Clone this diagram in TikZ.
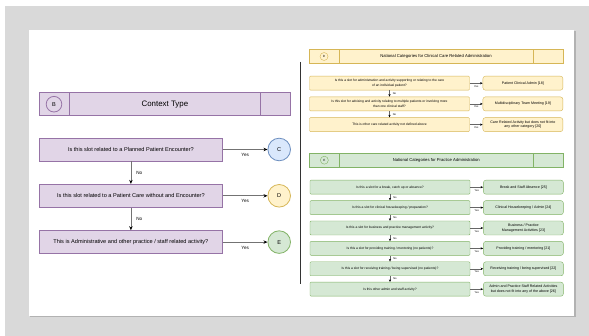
\documentclass[tikz,border=0pt]{standalone}
\usepackage{fontspec}
\setmainfont{Liberation Sans}
\usetikzlibrary{arrows.meta, positioning}

\definecolor{pageGray}{HTML}{D9D9D9}
\definecolor{purpleFill}{HTML}{E1D5E7}
\definecolor{purpleLine}{HTML}{9673A6}
\definecolor{blueFill}{HTML}{DAE8FC}
\definecolor{blueLine}{HTML}{6C8EBF}
\definecolor{yellowFill}{HTML}{FFF2CC}
\definecolor{yellowLine}{HTML}{D6B656}
\definecolor{greenFill}{HTML}{D5E8D4}
\definecolor{greenLine}{HTML}{82B366}

\begin{document}
\begin{tikzpicture}[
        x=1pt, y=-1pt,
        hdrbox/.style={rectangle, draw=purpleLine, fill=purpleFill, line width=0.8pt, inner sep=0pt, minimum width=251pt, minimum height=23pt, font=\fontsize{7.9}{9}\selectfont},
        qbox/.style={rectangle, draw=purpleLine, fill=purpleFill, line width=0.8pt, inner sep=0pt, minimum width=183pt, minimum height=23pt, font=\fontsize{5.6}{6.7}\selectfont},
        endcirc/.style={circle, draw, line width=0.8pt, inner sep=0pt, minimum size=22.6pt, font=\fontsize{5.6}{6.7}\selectfont},
        tagcirc/.style={circle, draw=purpleLine, fill=purpleFill, line width=0.8pt, inner sep=0pt, minimum size=15.6pt, font=\fontsize{5.6}{6.7}\selectfont},
        arrow/.style={-{Stealth[length=4pt, width=3.4pt, color=black]}, draw=black!55, line width=0.8pt},
        lbl/.style={inner sep=0pt, font=\fontsize{4.6}{5}\selectfont},
        rhdr/.style={rectangle, draw, inner sep=0pt, minimum width=253.5pt, minimum height=13.6pt, font=\fontsize{4.2}{5}\selectfont},
        rtag/.style={circle, draw, inner sep=0pt, minimum size=8pt, font=\fontsize{3}{3.5}\selectfont},
        rq/.style={rectangle, rounded corners=1pt, draw, inner sep=0pt, minimum width=160pt, minimum height=14pt, align=center, font=\fontsize{3.3}{4.2}\selectfont},
        ra/.style={rectangle, rounded corners=2.5pt, draw, inner sep=0pt, minimum width=80pt, minimum height=14pt, align=center, font=\fontsize{3.6}{4.5}\selectfont},
        sarrow/.style={-{Stealth[length=2.6pt, width=2.2pt, color=black]}, draw=black!60, line width=0.5pt},
        slbl/.style={inner sep=0pt, font=\fontsize{2.6}{3}\selectfont},
        dsec/.style={draw=yellowLine, fill=yellowFill},
        esec/.style={draw=greenLine, fill=greenFill}
    ]

    % page and background
    \useasboundingbox (0,0) rectangle (589,336);
    \fill[white] (0,0) rectangle (589,336);
    \fill[pageGray] (5,6) rectangle (589,336);
    \fill[black!30] (30,31.5) rectangle (575.5,317.5);
    \fill[white] (29,30) rectangle (574,316);

    % left: context type
    \node[hdrbox] (hdrB) at (164.9,104.2) {Context Type};
    \draw[purpleLine, line width=0.8pt] ([xshift=30pt]hdrB.north west) -- ([xshift=30pt]hdrB.south west);
    \draw[purpleLine, line width=0.8pt] ([xshift=-30pt]hdrB.north east) -- ([xshift=-30pt]hdrB.south east);
    \node[tagcirc] (tagB) at ([xshift=15pt]hdrB.west) {B};

    \node[qbox] (q1) at (130.9,149.5) {Is this slot related to a Planned Patient Encounter?};
    \node[qbox, below=22.5pt of q1] (q2) {Is this slot related to a Patient Care without and Encounter?};
    \node[qbox, below=22.5pt of q2] (q3) {This is Administrative and other practice / staff related activity?};

    \node[endcirc, draw=blueLine, fill=blueFill, right=44.7pt of q1] (toC) {C};
    \node[endcirc, draw=yellowLine, fill=yellowFill, right=44.7pt of q2] (toD) {D};
    \node[endcirc, draw=greenLine, fill=greenFill, right=44.7pt of q3] (toE) {E};

    \draw[arrow] (q1) -- node[lbl, below=3.5pt] {Yes} (toC);
    \draw[arrow] (q2) -- node[lbl, below=3.5pt] {Yes} (toD);
    \draw[arrow] (q3) -- node[lbl, below=3.5pt] {Yes} (toE);
    \draw[arrow] (q1) -- node[lbl, right=5pt] {No} (q2);
    \draw[arrow] (q2) -- node[lbl, right=5pt] {No} (q3);

    % divider
    \draw[black!80, line width=0.8pt] (300.5,62) -- (300.5,284);

    % right: clinical care related administration
    \node[rhdr, dsec] (hdrD) at (436,56.5) {National Categories for Clinical Care Related Administration};
    \draw[yellowLine] ([xshift=30pt]hdrD.north west) -- ([xshift=30pt]hdrD.south west);
    \draw[yellowLine] ([xshift=-30pt]hdrD.north east) -- ([xshift=-30pt]hdrD.south east);
    \node[rtag, dsec] (tagD) at ([xshift=15pt]hdrD.west) {D};

    \node[rq, dsec] (dq1) at (389.5,83.2) {Is this a slot for administration and activity supporting or relating to the care\\of an individual patient?};
    \node[rq, dsec, below=6.3pt of dq1] (dq2) {Is this slot for advising and activity relating to multiple patients or involving more\\than one clinical staff?};
    \node[rq, dsec, below=6.3pt of dq2] (dq3) {This is other care related activity not defined above};

    \node[ra, dsec, right=13pt of dq1] (da1) {Patient Clinical Admin [18]};
    \node[ra, dsec, right=13pt of dq2] (da2) {Multidisciplinary Team Meeting [19]};
    \node[ra, dsec, right=13pt of dq3] (da3) {Care Related Activity but does not fit into\\any other category [20]};

    \draw[sarrow] (dq1) -- node[slbl, below=2pt] {Yes} (da1);
    \draw[sarrow] (dq2) -- node[slbl, below=2pt] {Yes} (da2);
    \draw[sarrow] (dq3) -- node[slbl, below=2pt] {Yes} (da3);
    \draw[sarrow] (dq1) -- node[slbl, right=3pt] {No} (dq2);
    \draw[sarrow] (dq2) -- node[slbl, right=3pt] {No} (dq3);

    % right: practice administration
    \node[rhdr, esec] (hdrE) at (436.3,160.2) {National Categories for Practice Administration};
    \draw[greenLine] ([xshift=30pt]hdrE.north west) -- ([xshift=30pt]hdrE.south west);
    \draw[greenLine] ([xshift=-30pt]hdrE.north east) -- ([xshift=-30pt]hdrE.south east);
    \node[rtag, esec] (tagE) at ([xshift=15pt]hdrE.west) {E};

    \node[rq, esec] (eq1) at (390,187.2) {Is this a slot for a break, catch up or absence?};
    \node[rq, esec, below=6pt of eq1] (eq2) {Is this a slot for clinical housekeeping / preparation?};
    \node[rq, esec, below=6pt of eq2] (eq3) {Is this a slot for business and practice management activity?};
    \node[rq, esec, below=6pt of eq3] (eq4) {Is this a slot for providing training / mentoring (no patients)?};
    \node[rq, esec, below=6pt of eq4] (eq5) {Is this a slot for receiving training / being supervised (no patients)?};
    \node[rq, esec, below=6pt of eq5] (eq6) {Is this other admin and staff activity?};

    \node[ra, esec, right=13pt of eq1] (ea1) {Break and Staff Absence [25]};
    \node[ra, esec, right=13pt of eq2] (ea2) {Clinical Housekeeping / Admin [24]};
    \node[ra, esec, right=13pt of eq3] (ea3) {Business / Practice\\Management Activities [23]};
    \node[ra, esec, right=13pt of eq4] (ea4) {Providing training / mentoring [21]};
    \node[ra, esec, right=13pt of eq5] (ea5) {Receiving training / being supervised [22]};
    \node[ra, esec, right=13pt of eq6] (ea6) {Admin and Practice Staff Related Activities\\but does not fit into any of the above [26]};

    \draw[sarrow] (eq1) -- node[slbl, below=2pt] {Yes} (ea1);
    \draw[sarrow] (eq2) -- node[slbl, below=2pt] {Yes} (ea2);
    \draw[sarrow] (eq3) -- node[slbl, below=2pt] {Yes} (ea3);
    \draw[sarrow] (eq4) -- node[slbl, below=2pt] {Yes} (ea4);
    \draw[sarrow] (eq5) -- node[slbl, below=2pt] {Yes} (ea5);
    \draw[sarrow] (eq6) -- node[slbl, below=2pt] {Yes} (ea6);
    \draw[sarrow] (eq1) -- node[slbl, right=3pt] {No} (eq2);
    \draw[sarrow] (eq2) -- node[slbl, right=3pt] {No} (eq3);
    \draw[sarrow] (eq3) -- node[slbl, right=3pt] {No} (eq4);
    \draw[sarrow] (eq4) -- node[slbl, right=3pt] {No} (eq5);
    \draw[sarrow] (eq5) -- node[slbl, right=3pt] {No} (eq6);

\end{tikzpicture}
\end{document}
